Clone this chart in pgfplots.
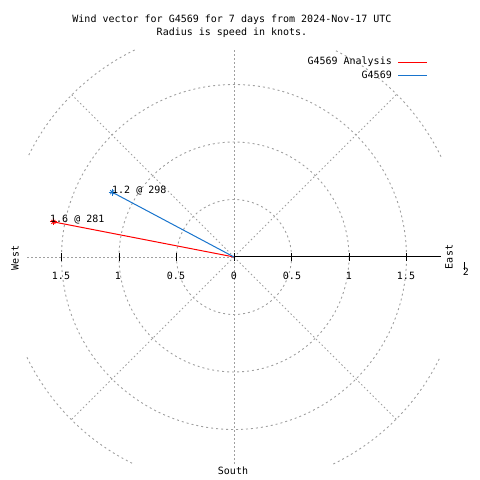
\documentclass[border=0pt]{standalone}
\usepackage{pgfplots}
\pgfplotsset{compat=1.18}
\usepackage{pgfplotstable}
\usepackage{fontspec}
\setmainfont{DejaVu Sans Mono}
\setmonofont{DejaVu Sans Mono}
\definecolor{gridgray}{RGB}{160,160,160}
\definecolor{vred}{RGB}{255,0,0}
\definecolor{vblue}{RGB}{24,116,205}
% speed (knots), direction (degrees, compass)
\pgfplotstableread{
speed dir
0 0
1.6 281
}\analysis
\pgfplotstableread{
speed dir
0 0
1.2 298
}\obs
\begin{document}
\begin{tikzpicture}[font=\fontsize{10bp}{12bp}\selectfont]
\path[use as bounding box] (0,0) rectangle (480bp,480bp);
% polar grid (centre at 234bp,223bp; 1 knot = 115bp)
\begin{scope}[gridgray, line width=0.9bp]
\draw[dash pattern=on 2bp off 3bp] (234bp,223bp) circle[radius=57.5bp];
\draw[dash pattern=on 2bp off 3bp] (234bp,223bp) circle[radius=115bp];
\draw[dash pattern=on 2bp off 3bp] (234bp,223bp) circle[radius=172.5bp];
\draw[dash pattern=on 2bp off 3bp] (441bp,323.3bp) arc[start angle=25.84, end angle=64.16, radius=230bp];
\draw[dash pattern=on 2bp off 3bp] (134.7bp,430bp) arc[start angle=115.84, end angle=154.16, radius=230bp];
\draw[dash pattern=on 2bp off 3bp] (27bp,122.7bp) arc[start angle=205.84, end angle=244.16, radius=230bp];
\draw[dash pattern=on 2bp off 3bp] (333.3bp,16bp) arc[start angle=295.84, end angle=334.16, radius=230bp];
\draw[dash pattern=on 1.5bp off 2.5bp] (234bp,223bp) -- ++(45:230bp);
\draw[dash pattern=on 1.5bp off 2.5bp] (234bp,223bp) -- ++(135:230bp);
\draw[dash pattern=on 1.5bp off 2.5bp] (234bp,223bp) -- ++(225:230bp);
\draw[dash pattern=on 1.5bp off 2.5bp] (234bp,223bp) -- ++(315:230bp);
\draw[dash pattern=on 1.5bp off 2.5bp] (234bp,16bp) -- (234bp,430bp);
\draw[dash pattern=on 1.5bp off 2.5bp] (27bp,223bp) -- (234bp,223bp);
\end{scope}
\begin{scope}[black, line width=1bp]
\draw (234bp,223bp) -- (441bp,223bp);
\draw (61.5bp,219bp) -- ++(0,8bp);
\draw (119bp,219bp) -- ++(0,8bp);
\draw (176.5bp,219bp) -- ++(0,8bp);
\draw (234bp,219bp) -- ++(0,8bp);
\draw (291.5bp,219bp) -- ++(0,8bp);
\draw (349bp,219bp) -- ++(0,8bp);
\draw (406.5bp,219bp) -- ++(0,8bp);
\draw (464bp,210bp) -- (464bp,218bp);
\end{scope}
\begin{axis}[
  at={(27bp,16bp)}, anchor=south west,
  scale only axis, width=414bp, height=414bp,
  xmin=-1.8, xmax=1.8, ymin=-1.8, ymax=1.8,
  axis lines=none, clip=false,
]
\addplot[vred, line width=1bp, no markers]
  table[x expr={\thisrow{speed}*sin(\thisrow{dir})}, y expr={\thisrow{speed}*cos(\thisrow{dir})}] {\analysis};
\addplot[vblue, line width=1bp, no markers]
  table[x expr={\thisrow{speed}*sin(\thisrow{dir})}, y expr={\thisrow{speed}*cos(\thisrow{dir})}] {\obs};
\addplot[vred, only marks, mark=+, mark size=3.5bp, mark repeat=2, mark phase=2, mark options={solid,line width=0.8bp}]
  table[x expr={\thisrow{speed}*sin(\thisrow{dir})}, y expr={\thisrow{speed}*cos(\thisrow{dir})}] {\analysis};
\addplot[vred, only marks, mark=x, mark size=2.8bp, mark repeat=2, mark phase=2, mark options={solid,line width=0.8bp}]
  table[x expr={\thisrow{speed}*sin(\thisrow{dir})}, y expr={\thisrow{speed}*cos(\thisrow{dir})}] {\analysis};
\addplot[vblue, only marks, mark=+, mark size=3.5bp, mark repeat=2, mark phase=2, mark options={solid,line width=0.8bp}]
  table[x expr={\thisrow{speed}*sin(\thisrow{dir})}, y expr={\thisrow{speed}*cos(\thisrow{dir})}] {\obs};
\addplot[vblue, only marks, mark=x, mark size=2.8bp, mark repeat=2, mark phase=2, mark options={solid,line width=0.8bp}]
  table[x expr={\thisrow{speed}*sin(\thisrow{dir})}, y expr={\thisrow{speed}*cos(\thisrow{dir})}] {\obs};
\end{axis}
% legend
\node[anchor=east, inner sep=0pt] at (392bp,418bp) {G4569 Analysis};
\draw[vred, line width=1.4bp] (398bp,417.5bp) -- (427bp,417.5bp);
\node[anchor=east, inner sep=0pt] at (392bp,405bp) {G4569};
\draw[vblue, line width=1.4bp] (398bp,404.5bp) -- (427bp,404.5bp);
% value labels at the vector tips
\node[anchor=west, inner sep=0pt] at (50bp,260bp) {1.6 @ 281};
\node[anchor=west, inner sep=0pt] at (112bp,289bp) {1.2 @ 298};
% tick labels
\node at (61bp,204bp) {1.5};
\node at (118bp,204bp) {1};
\node at (176bp,204bp) {0.5};
\node at (234bp,204bp) {0};
\node at (292bp,204bp) {0.5};
\node at (349bp,204bp) {1};
\node at (406bp,204bp) {1.5};
\node at (466bp,208bp) {2};
% direction labels
\node[rotate=90] at (15bp,222bp) {West};
\node[rotate=90] at (449bp,223bp) {East};
\node at (233bp,9bp) {South};
% title
\node at (232bp,460bp) {Wind vector for G4569 for 7 days from 2024-Nov-17 UTC};
\node at (232bp,447bp) {Radius is speed in knots.};
\end{tikzpicture}
\end{document}
